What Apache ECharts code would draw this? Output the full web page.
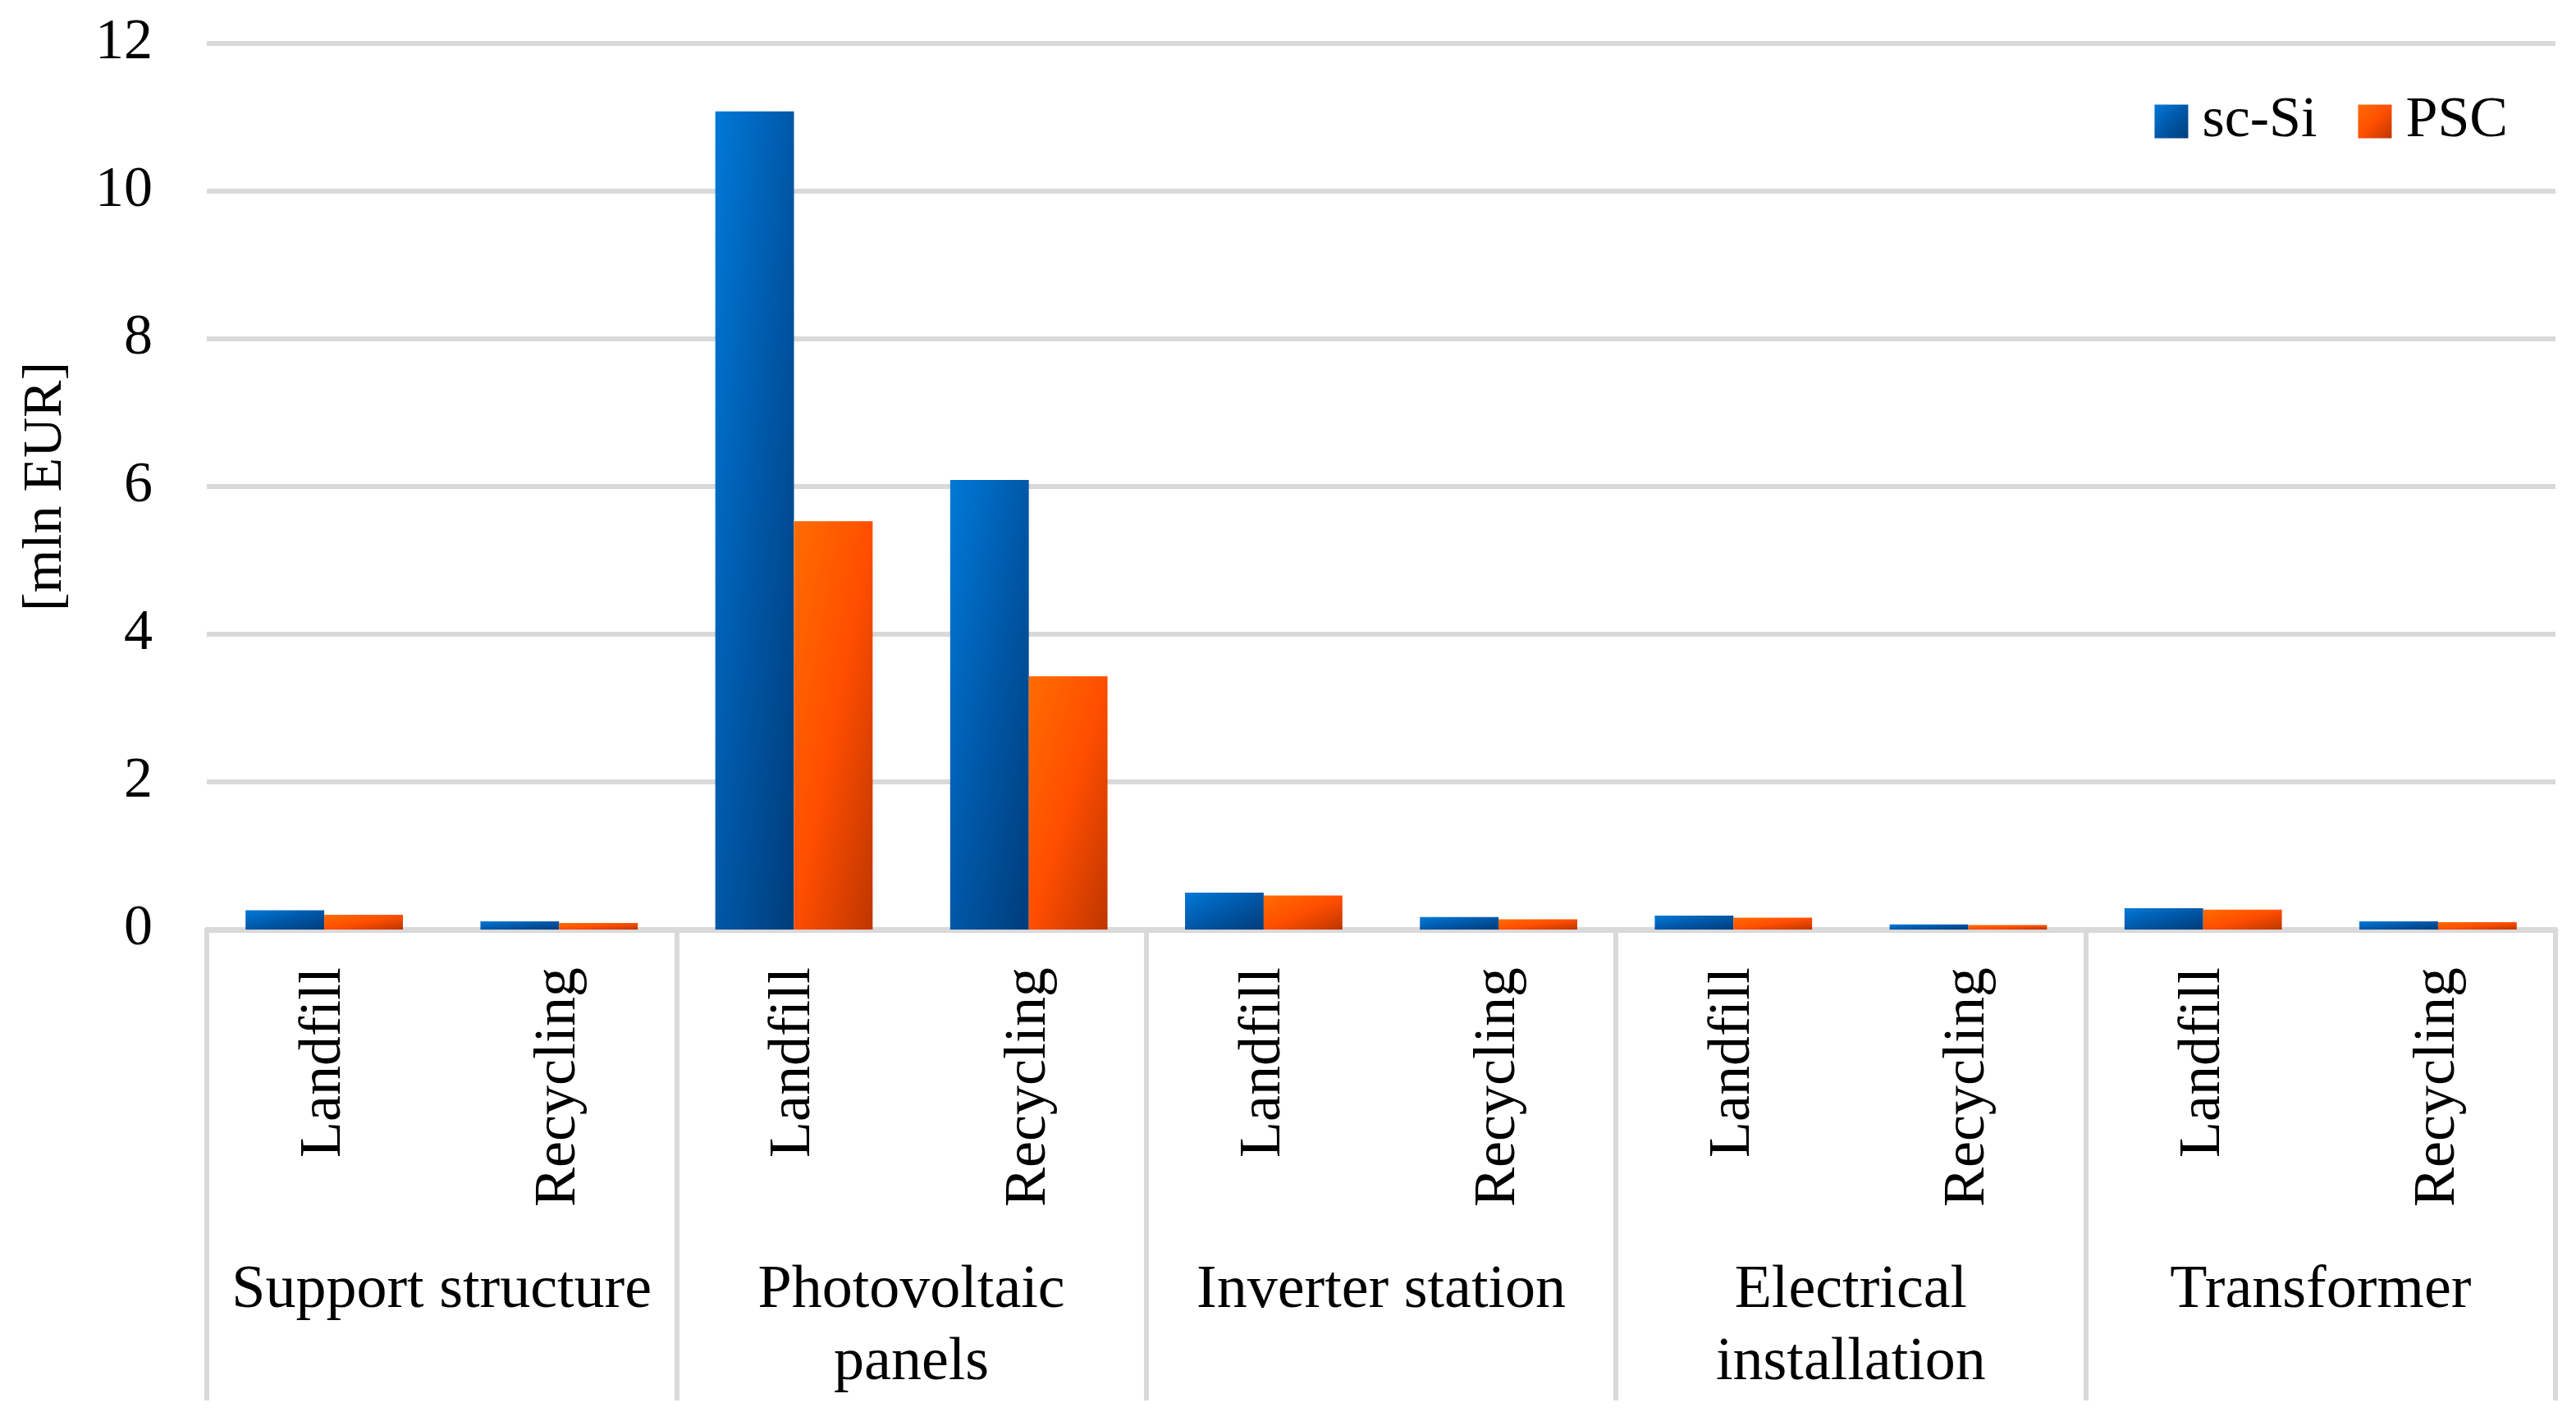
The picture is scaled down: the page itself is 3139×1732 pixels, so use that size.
<!DOCTYPE html>
<html>
<head>
<meta charset="utf-8">
<script src="https://cdn.jsdelivr.net/npm/echarts@6/dist/echarts.min.js"></script>
<style>
html,body{margin:0;padding:0;background:#fff;}
#c{width:3139px;height:1732px;}
</style>
</head>
<body>
<div id="c"></div>
<script>
const categories = ['Landfill','Recycling','Landfill','Recycling','Landfill','Recycling','Landfill','Recycling','Landfill','Recycling'];
const groups = ['Support structure','Photovoltaic\npanels','Inverter station','Electrical\ninstallation','Transformer'];
const scSi = [0.26,0.11,11.08,6.09,0.50,0.17,0.19,0.07,0.29,0.11];
const psc  = [0.20,0.09,5.53,3.43,0.46,0.14,0.16,0.06,0.27,0.10];
const seriesNames = ['sc-Si','PSC'];
const yMin = 0, yMax = 12, yStep = 2;

const FONT = 'Liberation Serif';
const blueStops = [{offset:0,color:'#0079D8'},{offset:0.5,color:'#0058A8'},{offset:1,color:'#003C7A'}];
const orangeStops = [{offset:0,color:'#FF6C00'},{offset:0.5,color:'#FF4E00'},{offset:1,color:'#BE3600'}];
function grad(stops,w,h){
  const s=h*h+w*w;
  if(!s) return {type:'linear',x:0,y:0,x2:1,y2:1,colorStops:stops};
  return {type:'linear',x:0,y:0,x2:2*h*h/s,y2:2*w*w/s,colorStops:stops};
}
const gray = '#D9D9D9';
const chart = echarts.init(document.getElementById('c'));
const option = {
  animation:false,
  backgroundColor:'#fff',
  textStyle:{fontFamily:FONT,color:'#000'},
  legend:{
    top:108,right:78,itemWidth:41,itemHeight:41,itemGap:50,
    icon:'rect',
    textStyle:{fontFamily:FONT,fontSize:70,color:'#000',padding:[0,0,0,12]},
    data:seriesNames
  },
  grid:{left:252,right:25,top:53,bottom:599,containLabel:false},
  xAxis:[{
    type:'category',data:categories,position:'bottom',
    axisLine:{show:true,lineStyle:{color:gray,width:7}},
    axisTick:{show:false},
    axisLabel:{rotate:90,margin:46,fontFamily:FONT,fontSize:72,color:'#000',interval:0}
  },{
    type:'category',data:groups,position:'bottom',gridIndex:0,
    axisLine:{show:false},
    axisTick:{show:true,length:574,interval:0,lineStyle:{color:gray,width:6}},
    axisLabel:{margin:397,fontFamily:FONT,fontSize:74,lineHeight:88,color:'#000',interval:0,verticalAlign:'top'}
  }],
  yAxis:{
    type:'value',min:yMin,max:yMax,interval:yStep,
    name:'[mln EUR]',nameLocation:'middle',nameGap:162,
    nameTextStyle:{fontFamily:FONT,fontSize:68,color:'#000'},
    axisLine:{show:false},axisTick:{show:false},
    axisLabel:{margin:66,fontFamily:FONT,fontSize:70,color:'#000'},
    splitLine:{lineStyle:{color:gray,width:6}}
  },
  series:[
    {name:seriesNames[0],type:'bar',xAxisIndex:0,data:scSi,barWidth:'33.5%',barGap:'0%',
     itemStyle:{color:grad(blueStops,1,1)}},
    {name:seriesNames[1],type:'bar',xAxisIndex:0,data:psc,barWidth:'33.5%',barGap:'0%',
     itemStyle:{color:grad(orangeStops,1,1)}}
  ]
};
chart.setOption(option);
// per-bar gradient matching shape-scaled diagonal fill
const y0 = chart.convertToPixel({yAxisIndex:0},0);
const cw = Math.abs(chart.convertToPixel({xAxisIndex:0},1)-chart.convertToPixel({xAxisIndex:0},0));
const bw = cw*0.335;
function styled(vals,stops){
  return vals.map(v=>{
    const h=Math.abs(chart.convertToPixel({yAxisIndex:0},v)-y0);
    return {value:v,itemStyle:{color:grad(stops,bw,h)}};
  });
}
chart.setOption({series:[{data:styled(scSi,blueStops)},{data:styled(psc,orangeStops)}]});
</script>
</body>
</html>
